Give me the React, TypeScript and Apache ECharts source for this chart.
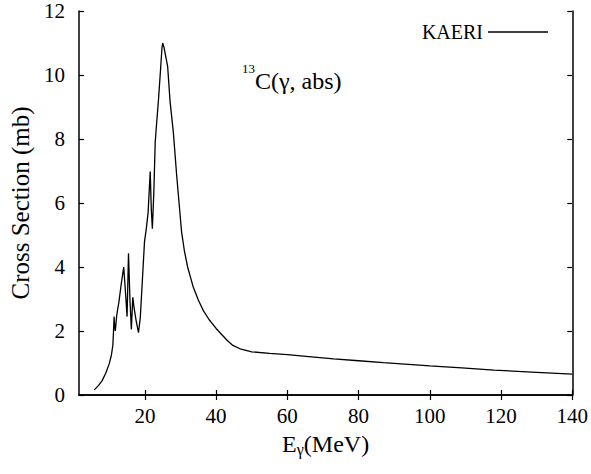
import React, { useEffect, useRef } from "react";
import * as echarts from "echarts";

const energy = [5.8, 7, 8, 9, 10, 10.6, 11.0, 11.2, 11.35, 11.5, 11.7, 12.1, 12.7, 13.4, 14.05, 14.5, 15.0, 15.4, 15.8, 16.2, 16.6, 17.0, 17.5, 18.2, 18.7, 19.3, 19.9, 20.4, 20.9, 21.5, 21.8, 22.1, 22.5, 22.9, 23.3, 23.8, 24.45, 24.8, 25.0, 25.4, 26.4, 27.05, 28.0, 28.9, 29.6, 30.3, 31.1, 32, 33.5, 35, 36.5, 38, 40, 41.5, 43, 44.7, 47, 50, 55, 60, 66, 73, 80, 87, 94, 100, 109, 118, 130, 140];
const crossSection = [0.16, 0.3, 0.45, 0.68, 0.98, 1.25, 1.55, 2.0, 2.45, 2.15, 2.0, 2.5, 2.9, 3.5, 4.0, 3.3, 2.45, 4.43, 3.0, 2.05, 3.05, 2.7, 2.35, 1.95, 2.4, 3.6, 4.8, 5.2, 5.7, 6.98, 5.8, 5.2, 6.3, 7.9, 8.5, 9.2, 10.26, 10.85, 11.0, 10.85, 10.26, 9.2, 8.2, 6.9, 6.0, 5.1, 4.5, 4.0, 3.4, 2.97, 2.62, 2.36, 2.08, 1.9, 1.72, 1.55, 1.43, 1.35, 1.3, 1.26, 1.2, 1.13, 1.07, 1.01, 0.96, 0.91, 0.85, 0.78, 0.71, 0.65];
const xTicks = [20, 40, 60, 80, 100, 120, 140];
const seriesName = "KAERI";

const FONT = "Times New Roman, Liberation Serif, Nimbus Roman, Tinos, DejaVu Serif, serif";

export default function App() {
  const ref = useRef<HTMLDivElement>(null);
  useEffect(() => {
    if (!ref.current) return;
    const chart = echarts.init(ref.current, null, { renderer: "svg" });
    const data = energy.map((e, i) => [e, crossSection[i]]);
    const axisLine = { show: true, lineStyle: { color: "#000", width: 1.5 } };
    const tick = { show: true, inside: true, length: 5, lineStyle: { color: "#000", width: 1.2 } };
    chart.setOption({
      animation: false,
      backgroundColor: "#fff",
      grid: { left: 77, right: 18, top: 11, bottom: 79 },
      legend: {
        right: 38,
        top: 17,
        align: "right",
        itemWidth: 60,
        itemHeight: 1.3,
        itemGap: 0,
        textStyle: { fontFamily: FONT, fontSize: 20, color: "#000", padding: [0, 0, 0, 0] },
        data: [{ name: seriesName, icon: "rect", itemStyle: { color: "#000" } }],
      },
      xAxis: [
        {
          type: "value",
          min: 1.5,
          max: 140,
          position: "bottom",
          axisLine,
          axisTick: { ...tick, customValues: xTicks },
          splitLine: { show: false },
          axisLabel: {
            customValues: xTicks,
            fontFamily: FONT,
            fontSize: 21,
            color: "#000",
            margin: 10,
          },
          name: "{e|E}{s|γ}{e|(MeV)}",
          nameLocation: "middle",
          nameGap: 35,
          nameTextStyle: {
            rich: {
              e: { fontFamily: FONT, fontSize: 24, color: "#000" },
              s: { fontFamily: FONT, fontSize: 16, color: "#000", padding: [11, 0, 0, 0] },
            },
          },
        },
        {
          type: "value",
          min: 1.5,
          max: 140,
          position: "top",
          axisLine,
          axisTick: { ...tick, customValues: xTicks },
          splitLine: { show: false },
          axisLabel: { show: false },
        },
      ],
      yAxis: [
        {
          type: "value",
          min: 0,
          max: 12,
          interval: 2,
          position: "left",
          axisLine,
          axisTick: tick,
          splitLine: { show: false },
          axisLabel: { fontFamily: FONT, fontSize: 21, color: "#000", margin: 14 },
          name: "Cross Section (mb)",
          nameLocation: "middle",
          nameGap: 46,
          nameTextStyle: { fontFamily: FONT, fontSize: 25, color: "#000" },
        },
        {
          type: "value",
          min: 0,
          max: 12,
          interval: 2,
          position: "right",
          axisLine,
          axisTick: tick,
          splitLine: { show: false },
          axisLabel: { show: false },
        },
      ],
      graphic: [
        {
          type: "text",
          left: 242,
          top: 62,
          style: { text: "13", fontFamily: FONT, fontSize: 13, fill: "#000" },
        },
        {
          type: "text",
          left: 255,
          top: 69,
          style: { text: "C(γ, abs)", fontFamily: FONT, fontSize: 24, fill: "#000" },
        },
      ],
      series: [
        {
          name: seriesName,
          type: "line",
          data,
          symbol: "none",
          showSymbol: false,
          smooth: false,
          lineStyle: { color: "#000", width: 1.3 },
          itemStyle: { color: "#000" },
        },
      ],
    });
    return () => chart.dispose();
  }, []);
  return (
    <div
      ref={ref}
      style={{ position: "fixed", left: 0, top: 0, width: 591, height: 474, background: "#fff" }}
    />
  );
}
